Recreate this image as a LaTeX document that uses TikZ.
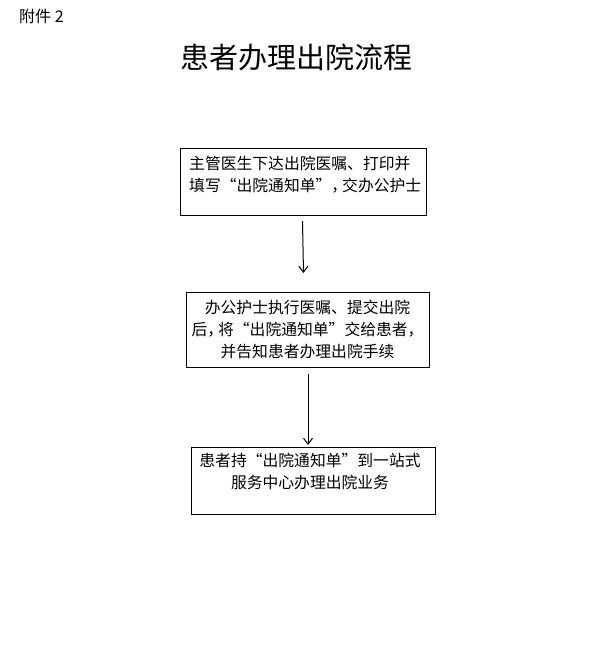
\documentclass[tikz,border=0pt]{standalone}
\usepackage{fontspec}
\setmainfont{Noto Sans CJK SC}
\usetikzlibrary{arrows.meta}
\newcommand{\cm}{，\kern-5pt}
\begin{document}
\begin{tikzpicture}[x=1pt,y=-1pt,
  stepbox/.style={draw,line width=1pt,inner sep=0pt},
  boxtext/.style={font=\fontsize{15.8}{22}\selectfont,align=center,inner sep=0pt},
  flow/.style={draw,line width=1pt,-{Straight Barb[length=6pt,width=9pt]}}]
\useasboundingbox (0,0) rectangle (594,671);
\node[anchor=west,font=\fontsize{16}{18}\selectfont,inner sep=0pt] (att) at (19,16) {附件 2};
\node[font=\fontsize{29}{30}\selectfont,inner sep=0pt] (title) at (296,57) {患者办理出院流程};
\draw[stepbox] (180,149) rectangle (426,215);
\node[boxtext,align=left,anchor=west] (t1) at (189,175) {主管医生下达出院医嘱、打印并\\填写“出院通知单”\cm 交办公护士};
\draw[stepbox] (186,292) rectangle (429,367);
\node[boxtext] (t2) at (307.5,329) {办公护士执行医嘱、提交出院\\后\cm 将“出院通知单”交给患者\cm\kern5pt\\并告知患者办理出院手续};
\draw[stepbox] (191,447) rectangle (435,514);
\node[boxtext] (t3) at (310,471) {患者持“出院通知单”到一站式\\服务中心办理出院业务};
\coordinate (a1s) at (302.5,221);
\coordinate (a1e) at (303.5,273);
\coordinate (a2s) at (308,374);
\coordinate (a2e) at (308,445);
\draw[flow] (a1s) -- (a1e);
\draw[flow] (a2s) -- (a2e);
\end{tikzpicture}
\end{document}
